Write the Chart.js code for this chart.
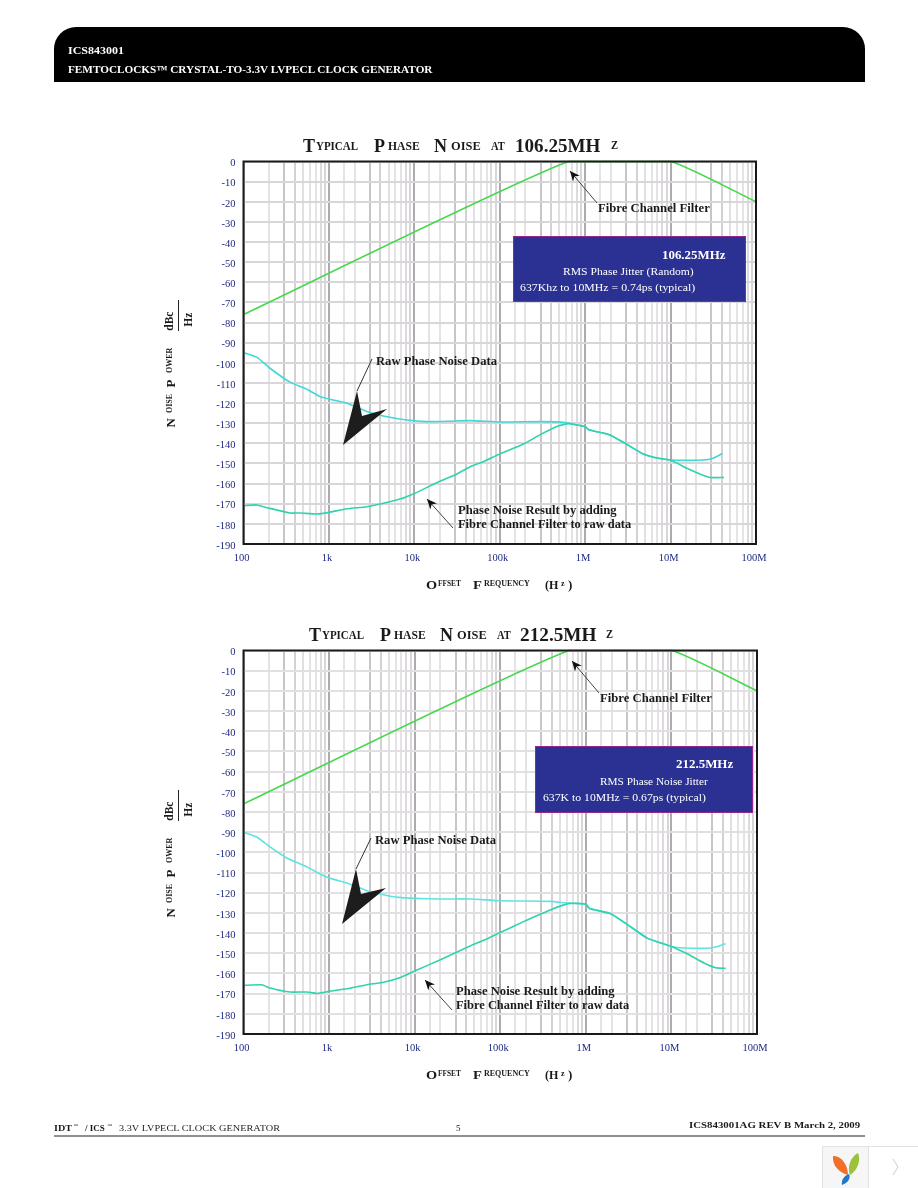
<!DOCTYPE html>
<html lang="en">
<head>
  <meta charset="UTF-8" />
  <title>ICS843001 Typical Phase Noise</title>
  <script src="https://cdn.jsdelivr.net/npm/chart.js"></script>
  <style>
    body {
      margin: 0;
      width: 918px;
      height: 1188px;
      position: relative;
      overflow: hidden;
      background: #fff;
      font-family: "Liberation Serif", serif;
      color: #1a1a1a;
    }
    canvas, .txt, .box, .bar, svg { position: absolute; }
    .txt { white-space: nowrap; transform-origin: 0 50%; line-height: 1; }
    .bar {
      left: 54px; top: 27px; width: 811px; height: 55px;
      background: #000;
      border-radius: 22px 22px 0 0;
    }
    .box {
      background: #2a3192;
      border: 1px solid #93278f;
      box-sizing: border-box;
    }
  </style>
</head>
<body>
  <div class="bar"></div>
  <div class="box" style="left:513px;top:236px;width:233px;height:66px;z-index:2"></div>
  <div class="box" style="left:535px;top:746px;width:218px;height:67px;z-index:2"></div>
  <canvas id="chart106" width="590" height="424" style="left:190px;top:150px"></canvas>
  <canvas id="chart212" width="590" height="424" style="left:190px;top:640px"></canvas>

  <svg width="918" height="1188" style="left:0;top:0;z-index:1">
    <defs>
      <marker id="head" markerWidth="11" markerHeight="9" refX="10" refY="4.5" orient="auto-start-reverse" markerUnits="userSpaceOnUse">
        <path d="M0 0 L10 4.5 L0 9 L3 4.5 Z" fill="#111"/>
      </marker>
    </defs>
    <!-- callouts, top chart -->
    <line x1="597" y1="203" x2="570" y2="171" stroke="#444" marker-end="url(#head)"/>
    <line x1="453" y1="528" x2="427" y2="499" stroke="#444" marker-end="url(#head)"/>
    <line x1="372" y1="359" x2="357" y2="391" stroke="#333"/>
    <polygon points="357,391 362,416 387,409 343,445" fill="#1d1d1d"/>
    <!-- callouts, bottom chart -->
    <line x1="599" y1="693" x2="572" y2="661" stroke="#444" marker-end="url(#head)"/>
    <line x1="452" y1="1010" x2="425" y2="980" stroke="#444" marker-end="url(#head)"/>
    <line x1="371" y1="838" x2="356" y2="869" stroke="#333"/>
    <polygon points="356,869 361,894 386,888 342,924" fill="#1d1d1d"/>
    <!-- footer rule and corner badge -->
    <line x1="54" y1="1136" x2="865" y2="1136" stroke="#222" stroke-width="1.2"/>
    <rect x="822.5" y="1146.5" width="96" height="42" fill="#fff" stroke="#e2e2e2"/>
    <rect x="823" y="1147" width="45" height="41" fill="#f6f6f6"/>
    <line x1="868.5" y1="1147" x2="868.5" y2="1188" stroke="#e2e2e2"/>
    <path d="M833 1156 C841 1155 848 1165 848 1175 C840 1173 832 1166 833 1156 Z" fill="#f0702a"/>
    <path d="M858 1153 C861 1160 858 1170 850 1175 C847 1168 850 1157 858 1153 Z" fill="#9cc23c"/>
    <path d="M849 1174 C851 1178 848 1183 842 1185 C841 1180 844 1176 849 1174 Z" fill="#1f78c8"/>
    <path d="M893 1159 L898 1167 L893 1175" fill="none" stroke="#ccc"/>
  </svg>

  <script>
    // frequency in Hz and level in dBc/Hz
    const filterFreq = [100, 637000, 10000000, 100000000];
    const filterDb = [-76, 0, 0, -20];

    const raw106Freq = [100, 143, 204, 350, 550, 787, 1000, 1615, 2770, 4340, 8150, 14000, 26000, 45000, 100000, 323000, 582000, 1000000, 1100000, 1950000, 3070000, 4800000, 6900000, 10000000, 20000000, 27800000, 33000000, 40500000];
    const raw106Db = [-94.9, -97.2, -102.7, -109.6, -113.1, -116.8, -118, -120, -124.2, -126.4, -128.4, -129.2, -129, -128.7, -129.4, -129.2, -129.7, -131.7, -133.3, -135.8, -140.5, -145.3, -147.3, -148.3, -148.4, -148, -147, -145];
    const result106Freq = [100, 143, 204, 350, 460, 720, 1000, 1615, 2770, 4340, 6800, 10000, 18300, 31600, 45000, 64000, 100000, 190000, 295000, 490000, 637000, 1000000, 1100000, 1950000, 3070000, 4800000, 6900000, 10000000, 15500000, 22000000, 29000000, 42000000];
    const result106Db = [-171, -170.6, -172.3, -174.6, -174.6, -175.1, -174.3, -172.5, -171.5, -169.8, -167.7, -164.9, -159.6, -155.2, -151.6, -149.1, -145.3, -140.3, -135.8, -131.3, -130.3, -131.7, -133.3, -135.8, -140.5, -145.3, -147.3, -148.3, -152.4, -155.2, -157, -156.9];

    const raw212Freq = [100, 143, 204, 320, 550, 787, 1000, 1615, 2770, 4340, 6500, 10000, 20000, 45000, 100000, 390000, 637000, 1000000, 1100000, 1950000, 3070000, 5200000, 10000000, 14000000, 29000000, 43000000];
    const raw212Db = [-90.1, -92.4, -97.3, -102.8, -107.2, -110.7, -112.7, -115.2, -119, -121, -122.3, -122.8, -123.1, -123.1, -124, -124.3, -125.3, -125.6, -127.8, -130.4, -135.8, -142.5, -146.6, -147.4, -147.4, -145.3];
    const result212Freq = [100, 163, 204, 350, 550, 720, 1000, 1615, 2770, 4340, 6800, 10000, 20000, 45000, 64000, 100000, 190000, 390000, 637000, 1000000, 1100000, 1950000, 3070000, 5200000, 10000000, 15500000, 24000000, 33000000, 43000000];
    const result212Db = [-165.9, -165.6, -167.2, -169.2, -169.2, -169.9, -168.9, -167.6, -165.6, -164.4, -162, -158.8, -153.2, -146.3, -143.6, -139.7, -134.2, -128.4, -125.3, -125.6, -127.8, -130.4, -135.8, -142.5, -146.6, -150.4, -154.8, -157.2, -157.5];

    const xTickValues = [100, 1000, 10000, 100000, 1000000, 10000000, 100000000];
    const xTickLabels = ['100', '1k', '10k', '100k', '1M', '10M', '100M'];

    const toPoints = (freq, db) => freq.map((f, i) => ({ x: f, y: db[i] }));
    const series = (freq, db, color) => ({
      data: toPoints(freq, db),
      borderColor: color,
      borderWidth: 1.6,
      pointRadius: 0,
      tension: 0.15,
      clip: false
    });

    // decade lines are darkest in the scan, the 2 and 5-7 lines nearly fade out
    const shadeByDigit = { 1: '#aeabae', 2: '#e6e3e6', 3: '#c8c5c8', 4: '#d4d1d4', 5: '#e2dfe2', 6: '#e6e3e6', 7: '#e6e3e6', 8: '#dddadd', 9: '#d8d5d8' };
    const leadingDigit = v => Math.round(v / Math.pow(10, Math.floor(Math.log10(v) + 1e-9)));

    // top and right edges, the scales only give the left and bottom ones
    const framePlugin = {
      id: 'frame',
      afterDraw(chart) {
        const { ctx, chartArea: a } = chart;
        ctx.save();
        ctx.strokeStyle = '#1a1a1a';
        ctx.lineWidth = 2;
        ctx.strokeRect(a.left, a.top, a.right - a.left, a.bottom - a.top);
        ctx.restore();
      }
    };

    function makeChart(id, datasets, padTop, padRight, yGridColor) {
      const tickFont = { family: 'Liberation Serif', size: 10.5 };
      new Chart(document.getElementById(id), {
        type: 'line',
        data: { datasets },
        plugins: [framePlugin],
        options: {
          responsive: false,
          animation: false,
          layout: { padding: { top: padTop, right: padRight, left: 0, bottom: 0 } },
          plugins: { legend: { display: false }, tooltip: { enabled: false } },
          scales: {
            x: {
              type: 'logarithmic',
              min: 100,
              max: 100000000,
              afterFit: s => { s.height = 30; s.paddingLeft = 0; s.paddingRight = 0; },
              border: { display: false },
              grid: {
                drawTicks: false,
                color: c => shadeByDigit[leadingDigit(c.tick.value)],
                lineWidth: 2
              },
              ticks: {
                autoSkip: false,
                maxRotation: 0,
                padding: 8,
                labelOffset: -2,
                color: '#1f2a80',
                font: tickFont,
                callback: v => {
                  const i = xTickValues.indexOf(v);
                  return i < 0 ? '' : xTickLabels[i];
                }
              }
            },
            y: {
              min: -190,
              max: 0,
              afterFit: s => { s.width = 53.5; s.paddingTop = 0; s.paddingBottom = 0; },
              border: { display: false },
              grid: { drawTicks: false, color: yGridColor, lineWidth: 2 },
              ticks: {
                stepSize: 10,
                padding: 8,
                labelOffset: 2,
                color: '#1f2a80',
                font: tickFont
              }
            }
          }
        }
      });
    }

    makeChart('chart106', [
      series(filterFreq, filterDb, '#45d84a'),
      series(result106Freq, result106Db, '#2fd3ac'),
      series(raw106Freq, raw106Db, '#3dd9d6')
    ], 11.5, 24, '#d9d6d9');

    makeChart('chart212', [
      series(filterFreq, filterDb, '#45d84a'),
      series(result212Freq, result212Db, '#2fd3ac'),
      series(raw212Freq, raw212Db, '#5fe3e0')
    ], 10.5, 23, '#e2dfe2');

    // page text
    function put(x, y, text, size, opts = {}) {
      const el = document.createElement('div');
      el.className = 'txt';
      el.textContent = text;
      el.style.left = x + 'px';
      el.style.top = (y - size / 2) + 'px';
      el.style.fontSize = size + 'px';
      el.style.fontWeight = opts.bold === false ? 'normal' : 'bold';
      el.style.color = opts.color || '#1a1a1a';
      el.style.zIndex = 3;
      document.body.appendChild(el);
      let tf = opts.rotate ? 'rotate(-90deg)' : '';
      if (opts.w) tf += ` scaleX(${opts.w / el.offsetWidth})`;
      el.style.transform = tf;
      return el;
    }

    put(68, 51, 'ICS843001', 10.5, { color: '#fff', w: 56 });
    put(68, 70, 'FEMTOCLOCKS™ CRYSTAL-TO-3.3V LVPECL CLOCK GENERATOR', 10.5, { color: '#fff', w: 364 });

    function title(dx, y, big) {
      [[303, 'T', 18, 12], [316, 'YPICAL', 12, 42], [374, 'P', 18, 11], [388, 'HASE', 12, 32],
       [434, 'N', 18, 13], [451, 'OISE', 12, 30], [491, 'AT', 12, 14]].forEach(p => {
        put(p[0] + dx, y, p[1], p[2], { w: p[3] });
      });
      put(big.x, y, big.text, 18, { w: big.w });
      put(big.zx, y - 1, 'Z', 12, { w: 7 });
    }
    title(0, 146, { x: 515, text: '106.25MH', w: 86, zx: 611 });
    title(6, 635, { x: 520, text: '212.5MH', w: 77, zx: 606 });

    function axisTitles(dy) {
      put(426, 584 + dy, 'O', 13, { w: 11 });
      put(438, 584 + dy, 'FFSET', 8, { w: 23 });
      put(473, 584 + dy, 'F', 13, { w: 9 });
      put(484, 584 + dy, 'REQUENCY', 8, { w: 46 });
      put(545, 584 + dy, '(H', 13, { w: 13 });
      put(561, 584 + dy, 'z', 8);
      put(568, 584 + dy, ')', 13);

      put(170, 427 + dy, 'N', 13, { rotate: true });
      put(170, 413 + dy, 'OISE', 8, { rotate: true });
      put(170, 387 + dy, 'P', 13, { rotate: true });
      put(170, 373 + dy, 'OWER', 8, { rotate: true });
      put(170, 331 + dy, 'dBc', 11.5, { rotate: true });
      put(189, 327 + dy, 'Hz', 11.5, { rotate: true });
      const rule = document.createElement('div');
      rule.className = 'txt';
      rule.style.cssText = `left:178px;top:${300 + dy}px;width:1px;height:31px;background:#222`;
      document.body.appendChild(rule);
    }
    axisTitles(0);
    axisTitles(490);

    put(598, 208, 'Fibre Channel Filter', 12, { w: 112 });
    put(376, 361, 'Raw Phase Noise Data', 12, { w: 121 });
    put(458, 510, 'Phase Noise Result by adding', 12, { w: 159 });
    put(458, 524, 'Fibre Channel Filter to raw data', 12, { w: 173 });
    put(600, 698, 'Fibre Channel Filter', 12, { w: 112 });
    put(375, 840, 'Raw Phase Noise Data', 12, { w: 121 });
    put(456, 991, 'Phase Noise Result by adding', 12, { w: 159 });
    put(456, 1005, 'Fibre Channel Filter to raw data', 12, { w: 173 });

    put(662, 255, '106.25MHz', 12.5, { color: '#fff', w: 63 });
    put(563, 271, 'RMS Phase Jitter  (Random)', 11, { color: '#fff', bold: false, w: 131 });
    put(520, 287, '637Khz to 10MHz = 0.74ps (typical)', 11, { color: '#fff', bold: false, w: 175 });
    put(676, 764, '212.5MHz', 12.5, { color: '#fff', w: 57 });
    put(600, 781, 'RMS Phase Noise Jitter', 11, { color: '#fff', bold: false, w: 108 });
    put(543, 797, '637K to 10MHz = 0.67ps (typical)', 11, { color: '#fff', bold: false, w: 163 });

    put(54, 1128, 'IDT', 9, { w: 18 });
    put(73, 1125, '™', 5, { bold: false });
    put(85, 1128, '/ ICS', 9, { w: 20 });
    put(107, 1125, '™', 5, { bold: false });
    put(119, 1128, '3.3V LVPECL CLOCK GENERATOR', 9, { bold: false, w: 161 });
    put(456, 1128, '5', 9, { bold: false });
    put(689, 1125, 'ICS843001AG  REV B  March  2, 2009', 9, { w: 171 });
  </script>
</body>
</html>
